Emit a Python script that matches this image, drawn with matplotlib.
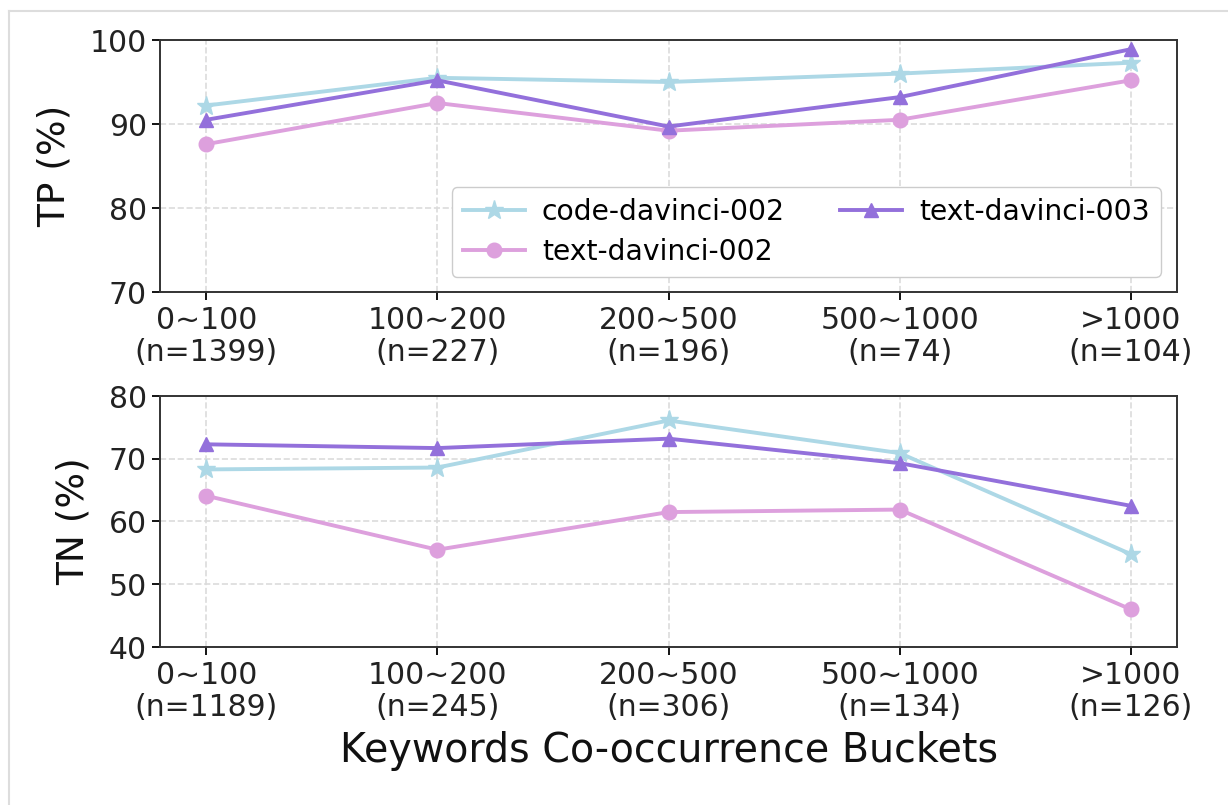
import matplotlib
matplotlib.use("Agg")
import matplotlib.pyplot as plt
from matplotlib.lines import Line2D

buckets = ["0~100", "100~200", "200~500", "500~1000", ">1000"]
tp_counts = [1399, 227, 196, 74, 104]
tn_counts = [1189, 245, 306, 134, 126]

models = ["code-davinci-002", "text-davinci-002", "text-davinci-003"]
tp_code002 = [92.2, 95.5, 95.0, 96.0, 97.3]
tp_text002 = [87.6, 92.5, 89.2, 90.5, 95.2]
tp_text003 = [90.5, 95.2, 89.7, 93.2, 98.9]

tn_code002 = [68.3, 68.6, 76.1, 70.9, 54.8]
tn_text002 = [64.1, 55.5, 61.5, 61.9, 46.0]
tn_text003 = [72.3, 71.7, 73.2, 69.3, 62.5]

colors = ["lightblue", "plum", "mediumpurple"]
markers = ["*", "o", "^"]
msizes = [14, 10.5, 10.5]

W, H = 1228, 805
fig = plt.figure(figsize=(W / 100, H / 100), dpi=100)

def px_axes(left, top, right, bottom):
    return fig.add_axes([left / W, 1 - bottom / H, (right - left) / W, (bottom - top) / H])

ax1 = px_axes(160, 40, 1177, 292)
ax2 = px_axes(160, 396, 1177, 647)

TICK_FS = 21.5

def draw(ax, series, counts, ylim, ylabel):
    x = list(range(len(buckets)))
    for vals, name, c, m, ms in zip(series, models, colors, markers, msizes):
        ax.plot(x, vals, color=c, marker=m, markersize=ms, linewidth=2.8, label=name)
    ax.set_xlim(-0.2, 4.2)
    ax.set_ylim(*ylim)
    ax.set_yticks(range(ylim[0], ylim[1] + 1, 10))
    ax.set_xticks(x)
    ax.set_xticklabels([f"{b}\n(n={n})" for b, n in zip(buckets, counts)],
                       fontsize=TICK_FS, color="#222222", linespacing=1.15)
    ax.tick_params(axis="y", labelsize=TICK_FS, labelcolor="#222222", length=6, width=1.3)
    ax.tick_params(axis="x", length=6, width=1.3, pad=4)
    ax.grid(True, linestyle="--", color="#dcdcdc", linewidth=1.2)
    ax.set_axisbelow(True)
    for s in ax.spines.values():
        s.set_linewidth(1.4)
        s.set_color("#333333")
    ax.set_ylabel(ylabel, fontsize=27, labelpad=12, color="#111111")

draw(ax1, [tp_code002, tp_text002, tp_text003], tp_counts, (70, 100), "TP (%)")
draw(ax2, [tn_code002, tn_text002, tn_text003], tn_counts, (40, 80), "TN (%)")
ax2.set_xlabel("Keywords Co-occurrence Buckets", fontsize=28.5, color="#111111", labelpad=6)

ax1.legend(ncol=2, fontsize=20.3, loc="lower right", bbox_to_anchor=(0.984, 0.06),
           borderaxespad=0.0, columnspacing=1.95, handlelength=2.2, handletextpad=0.6,
           framealpha=1.0, edgecolor="#cccccc", borderpad=0.4, labelspacing=0.4)

# thin frame lines on the top and left edges
fig.add_artist(Line2D([9 / W, 1], [1 - 11 / H, 1 - 11 / H], color="#dddddd", linewidth=1.5))
fig.add_artist(Line2D([9 / W, 9 / W], [0, 1 - 11 / H], color="#dddddd", linewidth=1.5))

fig.savefig("out.png", dpi=100)
